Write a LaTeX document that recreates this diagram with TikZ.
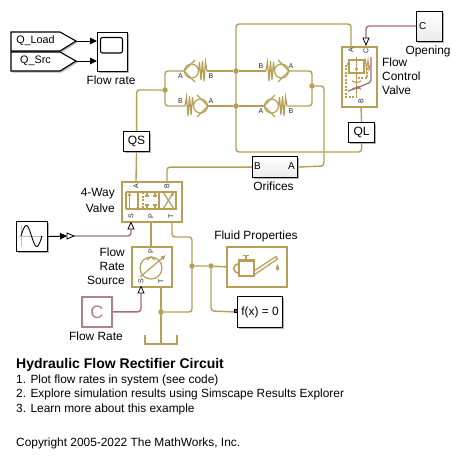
\documentclass[tikz,border=0pt]{standalone}
\usepackage{fontspec}
\setmainfont{Liberation Sans}
\usetikzlibrary{shadows,arrows.meta,calc}
\definecolor{hyd}{HTML}{B89F58}
\definecolor{sig}{HTML}{A66C7C}
\definecolor{cblk}{HTML}{B0808C}
\newcommand{\fs}[1]{\fontsize{#1}{14}\selectfont}
\tikzset{
  x=1pt,y=-1pt,
  shad/.style={drop shadow={shadow xshift=1.5pt,shadow yshift=-1.5pt,fill=black,opacity=.3}},
  blk/.style={draw=black,line width=1.1pt,fill=white,inner sep=0pt,shad,anchor=north west,font=\fs{11.9}},
  grad/.style={blk,top color=white,bottom color=black!8},
  hblk/.style={draw=hyd,line width=1.8pt,fill=white,inner sep=0pt,anchor=north west},
  hline/.style={draw=hyd,line width=1.4pt,rounded corners=3pt},
  hicon/.style={draw=hyd,line width=1.2pt},
  sline/.style={draw=sig,line width=1.4pt,rounded corners=3pt},
  jun/.style={circle,fill=hyd,draw=none,minimum size=5.5pt,inner sep=0pt},
  lab/.style={font=\fs{11.9},inner sep=0pt},
  lbr/.style={lab,align=right,anchor=east},
  lbl/.style={lab,align=left,anchor=west},
  prt/.style={font=\fs{7},inner sep=0pt,text=black!85},
  rprt/.style={prt,rotate=90},
  sigarrow/.style={draw=black,line width=1pt,-{Triangle[length=7pt,width=6.5pt]}},
  tri/.style={draw=black,line width=.8pt,fill=white},
  chk/.pic={
    \draw[hicon] (11,-11) -- (0,0) -- (11,11);
    \draw[hicon] (7.5,0) circle (7);
    \draw[hicon] (14.5,0) -- (15.5,-9) -- (17,9) -- (18.5,-10) -- (20,10) -- (21.5,-9) -- (23,0);
  },
}
\begin{document}
\begin{tikzpicture}
\useasboundingbox (0,0) rectangle (463,463);

% coordinates for free ends and ports
\coordinate (wA) at (351,46);
\coordinate (wC) at (366,38);
\coordinate (vA) at (136,181);
\coordinate (vB) at (167,181);
\coordinate (vP) at (151,221);
\coordinate (vT) at (172,221);
\coordinate (vS) at (131,222);
\coordinate (sP) at (151,246);
\coordinate (sT) at (161,286);
\coordinate (sS) at (141,293);
\coordinate (gnd) at (161,344);
\coordinate (fB) at (361,106);

% junctions
\node[jun] (j1) at (165,90) {};
\node[jun] (j2) at (236,71) {};
\node[jun] (j3) at (236,106) {};
\node[jun] (j4) at (312,86) {};
\node[jun] (j5) at (192,266) {};
\node[jun] (j6) at (211,266) {};
\node[jun] (j7) at (161,312) {};

% blocks
\node[blk,minimum width=30pt,minimum height=39pt] (scope) at (97,32) {};
\node[blk,minimum width=26pt,minimum height=20pt,font=\fs{12}] (QS) at (123,131) {QS};
\node[blk,minimum width=26pt,minimum height=20pt,font=\fs{12}] (QL) at (348,122) {QL};
\node[grad,minimum width=26pt,minimum height=30pt] (opening) at (416,11) {};
\node[grad,minimum width=45pt,minimum height=21pt] (orif) at (252,156) {};
\node[blk,minimum width=31pt,minimum height=30pt] (sine) at (16,221) {};
\node[blk,minimum width=45pt,minimum height=31pt] (fx) at (237,296) {f(x) = 0};
\node[draw=cblk,line width=1.6pt,fill=white,inner sep=0pt,anchor=north west,minimum width=30pt,minimum height=30pt,shad,text=cblk,font=\fs{18}] (crate) at (81,296) {C};
\node[hblk,minimum width=35pt,minimum height=60pt] (fcv) at (341,46) {};
\node[hblk,minimum width=60pt,minimum height=40pt] (way) at (121,181) {};
\node[hblk,minimum width=40pt,minimum height=40pt] (src) at (131,246) {};
\node[hblk,minimum width=60pt,minimum height=40pt] (fluid) at (226,246) {};

% goto blocks
\draw[draw=black,line width=1.1pt,fill=white,shad] (11,32) -- (60,32) -- (76,41) -- (60,51) -- (11,51) -- cycle;
\draw[draw=black,line width=1.1pt,fill=white,shad] (11,52) -- (60,52) -- (76,61) -- (60,71) -- (11,71) -- cycle;
\node[lab,font=\fs{10.8}] (qload) at (35.5,41) {Q\_Load};
\node[lab,font=\fs{10.8}] (qsrc) at (35.5,61) {Q\_Src};
\coordinate (g1) at (76,41);
\coordinate (g2) at (76,61);
\draw[sigarrow] (g1) -- (scope.west |- g1);
\draw[sigarrow] (g2) -- (scope.west |- g2);
\draw[black,line width=1.1pt,rounded corners=2pt] (100.5,37.5) rectangle (122.5,53);

% check valves
\pic at (184,71) {chk};
\pic[xscale=-1] at (208,106) {chk};
\pic[xscale=-1] at (289,71) {chk};
\pic at (264,106) {chk};
\coordinate (c1l) at (184,71); \coordinate (c1r) at (207,71);
\coordinate (c2l) at (185,106); \coordinate (c2r) at (208,106);
\coordinate (c3l) at (266,71); \coordinate (c3r) at (289,71);
\coordinate (c4l) at (264,106); \coordinate (c4r) at (287,106);

% hydraulic lines
\draw[hline] (QS.north) -- (QS.north |- j1) -- (j1);
\draw[hline] (QS.south) -- (vA);
\draw[hline] (c1l) -- (j1 |- c1l) -- (j1 |- c2l) -- (c2l);
\draw[hline] (c1r) -- (j2) -- (c3l);
\draw[hline] (c2r) -- (j3) -- (c4l);
\draw[hline] (c3r) -- (j4 |- c3r) -- (j4 |- c4r) -- (c4r);
\draw[hline] (wA) -- (wA |- 0,24) -- (j2 |- 0,24) -- (j2 |- 0,152) -- (QL.south |- 0,152) -- (QL.south);
\draw[hline] (fB) -- (QL.north);
\draw[hline] (j4) -- (324,86) -- (324,166) -- (orif.east);
\draw[hline] (orif.west) -- (vB |- orif.west) -- (vB);
\draw[hline] (vP) -- (sP);
\draw[hline] (vT) -- (172,237) -- (192,237) -- (192,312) -- (j7);
\draw[hline] (sT) -- (gnd);
\draw[hline,rounded corners=0pt] (145,335) -- (145,344) -- (177,344) -- (177,335);
\draw[hline] (j5) -- (j6) -- (fluid.west);
\draw[hline] (j6) -- (211,311) -- (fx.west);
\fill[black!60,draw=black,line width=.3pt] (234,309.5) rectangle (237,312.5);

% signal lines
\draw[sline] (opening.west |- 0,26) -- (366,26) -- (wC);
\draw[sline] (74,236) -- (131,236) -- (vS |- 0,229);
\draw[sline] (crate.east) -- (sS |- crate.east) -- (sS);
\coordinate (sinein) at (67,236);
\draw[sigarrow] (sine.east) -- (sinein);
\draw[tri] (67,233) -- (74,236) -- (67,239) -- cycle;
\draw[tri] (363,38) -- (369,38) -- (366,45) -- cycle;
\draw[tri] (128,229) -- (134,229) -- (131,222.5) -- cycle;
\draw[tri] (138,293) -- (144,293) -- (141,286.5) -- cycle;

% sine icon
\draw[black!25,line width=1pt] (21,225) -- (21,247) (19,236) -- (44,236);
\draw[black,line width=.9pt,domain=0:21,samples=40,smooth] plot ({21+\x},{236-10.5*sin(\x/21*360)});

% 4-way valve icon
\draw[hicon] (126,192) -- (143,192) (126,209) -- (143,209) (126,192) -- (126,209);
\draw[hicon] (159,192) rectangle (176,209);
\draw[hicon,dash pattern=on 2pt off 1.5pt] (143,192) -- (143,209);
\draw[hicon] (143,192) -- (159,192) (143,209) -- (159,209);
\draw[hicon,-{Latex[length=4pt,width=4pt]}] (129.5,209) -- (129.5,192);
\draw[hicon,-{Latex[length=4pt,width=4pt]}] (138,192) -- (138,211.5);
\draw[hicon] (147,192) -- (147,196) (145,196) -- (149,196) (155,192) -- (155,196) (153,196) -- (157,196)
  (147,209) -- (147,205) (145,205) -- (149,205) (155,209) -- (155,205) (153,205) -- (157,205);
\draw[hicon,-{Latex[length=4pt,width=4pt]}] (163,209) -- (174,192);
\draw[hicon] (174,209) -- (163,192);

% source icon
\draw[hicon] (151,268) circle (11);
\draw[hicon,-{Latex[length=5pt,width=5pt]}] (140,277) -- (166,255);
\draw[hicon] (147,260) -- (151,257) -- (155,260);

% fluid icon
\draw[hicon] (239,261) rectangle (254,276);
\draw[hicon,line width=1.8pt] (238,260) -- (255,260);
\draw[hicon,line width=1.8pt] (243,255.5) -- (249,255.5);
\draw[hicon] (246,255.5) -- (246,260);
\draw[hicon,line width=1.6pt] (239,264) .. controls (232,264) and (232,273) .. (239,273);
\draw[hicon] (254,271) -- (276,256.5) -- (277.5,259) -- (254,275);
\fill[hyd] (277.5,264) -- (279.2,268) .. controls (279.2,271) and (275.8,271) .. (275.8,268) -- cycle;

% flow control valve icon
\draw[hicon] (349,60) rectangle (364,73);
\draw[hicon,line width=1pt,-{Latex[length=4pt,width=4pt]}] (356.5,57) -- (356.5,72);
\draw[hicon,line width=1pt] (356.5,72) -- (356.5,97);
\draw[hicon,line width=1pt] (364,65) -- (365.5,60) -- (366.5,70) -- (368,60) -- (369,70) -- (370.5,65);
\draw[hicon,dash pattern=on 2pt off 1.5pt] (349,64) -- (346,64) -- (346,97) -- (356,97);
\draw[hicon,dash pattern=on 2pt off 1.5pt] (367,68) -- (367,78) -- (356.5,78);
\draw[hicon] (352,81) to[bend right=30] (361,81) (352,89) to[bend left=30] (361,89);
\draw[sig,line width=1.3pt,-{Latex[length=4pt,width=4pt]}] (348,91) -- (361,86.5);
\draw[sig,line width=1.3pt,rounded corners=1.5pt] (358,87.5) -- (371,82) -- (371,57);

% port labels
\node[prt] (p1) at (180.5,76) {A};
\node[prt] (p2) at (211,76) {B};
\node[prt] (p3) at (180.5,101) {B};
\node[prt] (p4) at (211,101) {A};
\node[prt] (p5) at (261,66) {B};
\node[prt] (p6) at (291,66) {A};
\node[prt] (p7) at (261,111) {A};
\node[prt] (p8) at (291,111) {B};
\node[rprt] (p9) at (351,50.5) {A};
\node[rprt] (p10) at (366,50.5) {C};
\node[rprt] (p11) at (361,101.5) {B};
\node[rprt] (p12) at (136,186) {A};
\node[rprt] (p13) at (167,186) {B};
\node[rprt] (p14) at (131,216) {S};
\node[rprt] (p15) at (151,216) {P};
\node[rprt] (p16) at (171,216) {T};
\node[rprt] (p17) at (151,251) {P};
\node[rprt] (p18) at (141,281) {S};
\node[rprt] (p19) at (161,281) {T};
\node[font=\fs{10},inner sep=0pt,anchor=west] (p20) at (419,26) {C};
\node[font=\fs{10},inner sep=0pt,anchor=west] (p21) at (254,166) {B};
\node[font=\fs{10},inner sep=0pt,anchor=east] (p22) at (295,166) {A};

% labels
\node[lab] (l1) at (111,80) {Flow rate};
\node[lab] (l2) at (428,51) {Opening};
\node[lbl] (l3) at (382,62) {Flow};
\node[lbl] (l4) at (382,76) {Control};
\node[lbl] (l5) at (382,90) {Valve};
\node[lab] (l6) at (273.5,186) {Orifices};
\node[lbr] (l7) at (115,194) {4-Way};
\node[lbr] (l8) at (115,208) {Valve};
\node[lbr] (l9) at (125,252) {Flow};
\node[lbr] (l10) at (125,266) {Rate};
\node[lbr] (l11) at (125,280) {Source};
\node[lab] (l12) at (256,236) {Fluid Properties};
\node[lab] (l13) at (96,336) {Flow Rate};

% annotation
\node[lbl,font=\fs{14}\bfseries] (t0) at (16,365) {Hydraulic Flow Rectifier Circuit};
\node[lbl,font=\fs{11.9}] (t1) at (16,380) {1. Plot flow rates in system (see code)};
\node[lbl,font=\fs{11.9}] (t2) at (16,394.5) {2. Explore simulation results using Simscape Results Explorer};
\node[lbl,font=\fs{11.9}] (t3) at (16,409) {3. Learn more about this example};
\node[lbl,font=\fs{11.9}] (t4) at (16,443) {Copyright 2005-2022 The MathWorks, Inc.};
\end{tikzpicture}
\end{document}
